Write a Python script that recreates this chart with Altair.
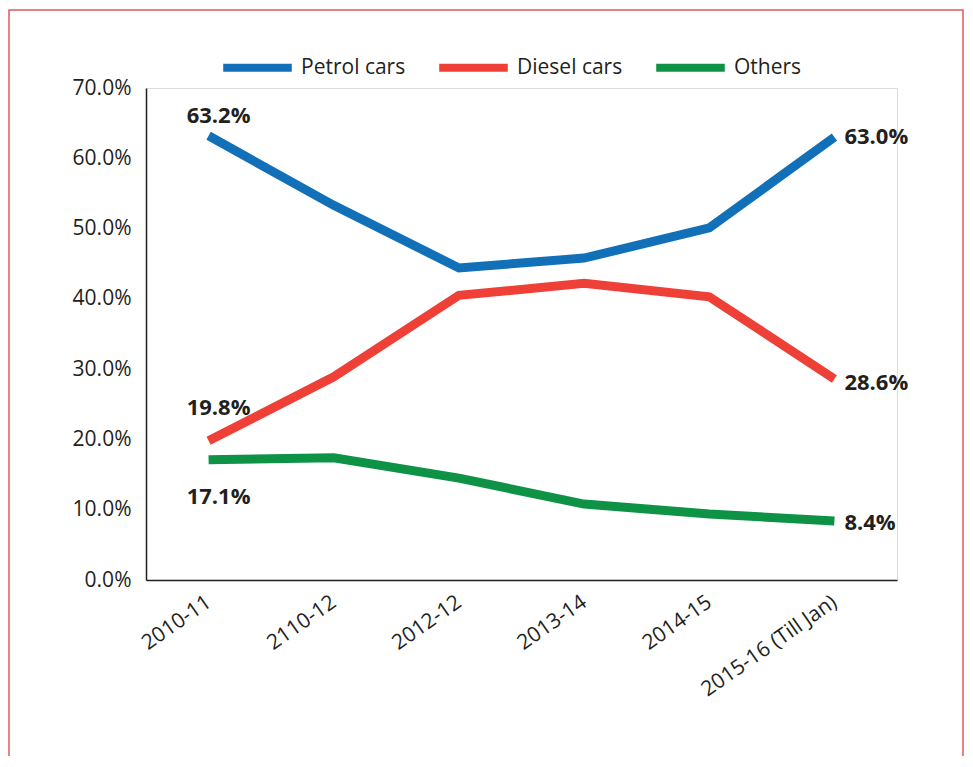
import altair as alt
import pandas as pd

categories = ["2010-11", "2110-12", "2012-12", "2013-14", "2014-15", "2015-16 (Till Jan)"]
series_names = ["Petrol cars", "Diesel cars", "Others"]
petrol = [63.2, 53.3, 44.4, 45.8, 50.1, 63.0]
diesel = [19.8, 28.9, 40.5, 42.2, 40.3, 28.6]
others = [17.1, 17.4, 14.5, 10.8, 9.4, 8.4]
colors = ["#1170b8", "#ee4036", "#0e9346"]

rows = []
for name, vals in zip(series_names, [petrol, diesel, others]):
    for c, v in zip(categories, vals):
        rows.append({"cat": c, "series": name, "value": v})
df = pd.DataFrame(rows)

FONT = "Open Sans"
TXT = "#231f20"

x = alt.X("cat:N", sort=categories, title=None,
          scale=alt.Scale(type="point", padding=0.5),
          axis=alt.Axis(labelAngle=325, labelAlign="right", labelBaseline="middle",
                        labelFontSize=21, labelColor=TXT, labelFont=FONT,
                        ticks=False, grid=False, labelPadding=20,
                        domainColor=TXT, domainWidth=1.5))
y = alt.Y("value:Q", title=None,
          scale=alt.Scale(domain=[0, 70], nice=False),
          axis=alt.Axis(values=[0, 10, 20, 30, 40, 50, 60, 70],
                        labelExpr="format(datum.value, '.1f') + '%'",
                        labelFontSize=21, labelColor=TXT, labelFont=FONT,
                        ticks=False, grid=False, labelPadding=15,
                        domainColor=TXT, domainWidth=1.5))

lines = alt.Chart(df).mark_line(strokeWidth=9, strokeCap="butt").encode(
    x=x, y=y,
    color=alt.Color("series:N", sort=series_names,
                    scale=alt.Scale(domain=series_names, range=colors),
                    legend=alt.Legend(title=None, orient="none", legendX=73, legendY=-59,
                                      direction="horizontal", symbolType="stroke",
                                      symbolSize=4700, symbolStrokeWidth=8,
                                      labelFontSize=21, labelFont=FONT, labelColor=TXT,
                                      labelOffset=5, columnPadding=17)),
)

first_off = {"Petrol cars": (10, -20), "Diesel cars": (10, -33), "Others": (10, 37)}
last_off = {"Petrol cars": (10, 0), "Diesel cars": (10, 4), "Others": (10, 2)}

layers = [lines]
for name in series_names:
    for cat, offs, align in [(categories[0], first_off, "center"), (categories[-1], last_off, "left")]:
        dx, dy = offs[name]
        sub = df[(df.series == name) & (df.cat == cat)]
        t = alt.Chart(sub).mark_text(
            font=FONT, fontSize=22, fontWeight="bold", color=TXT,
            align=align, baseline="middle", dx=dx, dy=dy,
        ).encode(
            x=alt.X("cat:N", sort=categories, scale=alt.Scale(type="point", padding=0.5)),
            y=alt.Y("value:Q", scale=alt.Scale(domain=[0, 70], nice=False)),
            text=alt.Text("label:N"),
        ).transform_calculate(label="format(datum.value, '.1f') + '%'")
        layers.append(t)

border = alt.Chart(pd.DataFrame({"a": [0]})).mark_rect(
    filled=False, stroke="#e05a5e", strokeWidth=1.5, clip=False
).encode(x=alt.value(-137), x2=alt.value(817), y=alt.value(-78), y2=alt.value(720))
layers.append(border)

chart = alt.layer(*layers).properties(
    width=751, height=492,
    autosize=alt.AutoSizeParams(type="none"),
    padding={"left": 138, "top": 80, "right": 68, "bottom": 176},
).configure_view(strokeWidth=0).configure(background="white")

chart.save("out.html", embed_options={"renderer": "svg", "actions": False})
